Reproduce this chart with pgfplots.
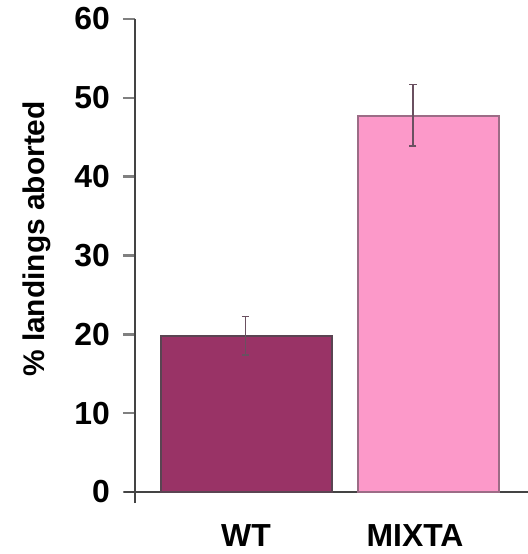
\documentclass[border=0pt]{standalone}
\usepackage{fontspec}
\setmainfont{Liberation Sans}
\usepackage{pgfplots}
\pgfplotsset{compat=1.18}
\definecolor{wtfill}{HTML}{993366}
\definecolor{mxfill}{HTML}{FC99C9}
\definecolor{wtdraw}{HTML}{5A4452}
\definecolor{mxdraw}{HTML}{9C6C86}
\definecolor{axisgray}{HTML}{444444}
\definecolor{tickgray}{HTML}{808080}
\definecolor{errgray}{HTML}{6A5060}
\begin{document}
\begin{tikzpicture}
\path[use as bounding box] (-135bp,-62bp) rectangle (393bp,492bp);
\begin{axis}[
  at={(0,0)}, anchor=south west,
  scale only axis,
  width=393bp, height=473bp,
  xmin=135, xmax=528,
  ymin=0, ymax=60,
  axis lines=left,
  axis line style={-, draw=axisgray, line width=2.5bp, shorten <=-11bp},
  ytick={0,10,...,60},
  xtick={246,415},
  xticklabels={WT,MIXTA},
  x tick style={draw=none},
  y tick style={draw=tickgray, line width=2.5bp},
  tick align=outside,
  major tick length=12bp,
  /pgf/number format/assume math mode=true,
  ticklabel style={font=\fontsize{32}{36}\selectfont\bfseries},
  yticklabel style={inner sep=0pt, xshift=-13bp},
  xticklabel style={inner sep=0pt, yshift=-20bp},
  ylabel={\% landings aborted},
  every axis y label/.style={at={(axis description cs:0,0.535)}, xshift=-98bp, rotate=90, anchor=center, font=\fontsize{30}{36}\selectfont\bfseries},
  clip=false,
]
\addplot[ybar, bar width=171bp, bar shift=0bp, fill=wtfill, draw=wtdraw, line width=2bp] coordinates {(246.5,19.8)};
\addplot[ybar, bar width=141bp, bar shift=0bp, fill=mxfill, draw=mxdraw, line width=2bp] coordinates {(428.5,47.7)};
\addplot[draw=none, forget plot,
  error bars/.cd, y dir=both, y explicit,
  error bar style={draw=errgray, line width=1.6bp},
  error mark options={rotate=90, mark size=3.5bp, draw=errgray, line width=1.6bp}]
  coordinates {(245.5,19.8) +- (0,2.45) (413,47.8) +- (0,3.9)};
\end{axis}
\end{tikzpicture}
\end{document}
